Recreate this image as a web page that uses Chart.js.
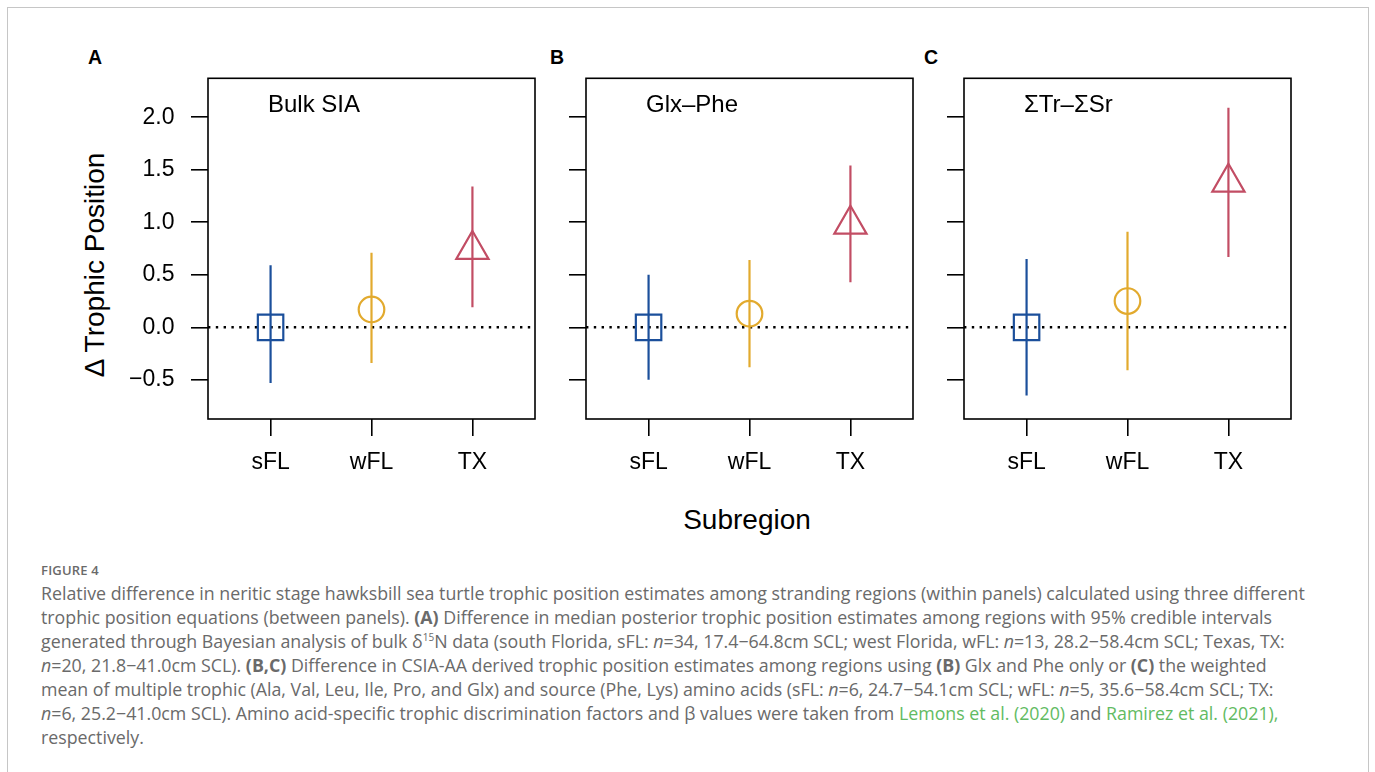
<!DOCTYPE html>
<html>
<head>
<meta charset="utf-8">
<script src="https://cdn.jsdelivr.net/npm/chart.js@4.4.0/dist/chart.umd.min.js"></script>
<style>
  body { margin: 0; background: #fff; width: 1375px; height: 772px; overflow: hidden; position: relative; font-family: "Liberation Sans", Arial, sans-serif; }
  .frame { position: absolute; left: 7px; top: 7px; width: 1360px; height: 800px; border: 1.5px solid #c6c6c6; border-bottom: none; }
  canvas { position: absolute; top: 70px; }
  .letter { position: absolute; font-weight: bold; font-size: 19.5px; transform: translate(-50%, -50%); }
  .ytitle { position: absolute; left: 95px; top: 265px; font-size: 28px; white-space: nowrap; transform: translate(-50%, -50%) rotate(-90deg); }
  .xtitle { position: absolute; left: 747px; top: 520px; font-size: 28px; transform: translate(-50%, -50%); }
  .caption { position: absolute; left: 41px; top: 559px; color: #6a6a6a; font-family: "Open Sans", sans-serif; }
  .caption .fig { font-size: 13px; font-weight: 600; letter-spacing: 0.2px; line-height: 22px; }
  .caption .ln { font-size: 17.8px; line-height: 24px; height: 24px; white-space: nowrap; }
  .caption a { color: #62bb62; text-decoration: none; }
  .caption b { font-weight: 700; }
  .caption sup { font-size: 10px; line-height: 0; }
</style>
</head>
<body>
<div class="frame"></div>
<div class="letter" style="left:95px; top:57px;">A</div>
<div class="letter" style="left:557px; top:57px;">B</div>
<div class="letter" style="left:931px; top:57px;">C</div>
<div class="ytitle">Δ Trophic Position</div>
<div class="xtitle">Subregion</div>

<canvas id="panelA" width="481" height="430" style="left:60px;"></canvas>
<canvas id="panelB" width="379" height="430" style="left:540px;"></canvas>
<canvas id="panelC" width="379" height="430" style="left:918px;"></canvas>

<div class="caption">
  <div class="fig">FIGURE 4</div>
  <div class="ln">Relative difference in neritic stage hawksbill sea turtle trophic position estimates among stranding regions (within panels) calculated using three different</div>
  <div class="ln">trophic position equations (between panels). <b>(A)</b> Difference in median posterior trophic position estimates among regions with 95% credible intervals</div>
  <div class="ln">generated through Bayesian analysis of bulk δ<sup>15</sup>N data (south Florida, sFL: <i>n</i>=34, 17.4−64.8cm SCL; west Florida, wFL: <i>n</i>=13, 28.2−58.4cm SCL; Texas, TX:</div>
  <div class="ln"><i>n</i>=20, 21.8−41.0cm SCL). <b>(B,C)</b> Difference in CSIA-AA derived trophic position estimates among regions using <b>(B)</b> Glx and Phe only or <b>(C)</b> the weighted</div>
  <div class="ln">mean of multiple trophic (Ala, Val, Leu, Ile, Pro, and Glx) and source (Phe, Lys) amino acids (sFL: <i>n</i>=6, 24.7−54.1cm SCL; wFL: <i>n</i>=5, 35.6−58.4cm SCL; TX:</div>
  <div class="ln"><i>n</i>=6, 25.2−41.0cm SCL). Amino acid-specific trophic discrimination factors and β values were taken from <a>Lemons et al. (2020)</a> and <a>Ramirez et al. (2021),</a></div>
  <div class="ln">respectively.</div>
</div>

<script>
const regions = ['sFL', 'wFL', 'TX'];
const methods = ['Bulk SIA', 'Glx–Phe', 'ΣTr–ΣSr'];
const yTicks = [-0.5, 0, 0.5, 1, 1.5, 2];

const bulkMedian = [0, 0.17, 0.74];
const bulkLow = [-0.53, -0.34, 0.19];
const bulkHigh = [0.59, 0.71, 1.34];

const glxMedian = [0, 0.13, 0.98];
const glxLow = [-0.50, -0.38, 0.43];
const glxHigh = [0.50, 0.64, 1.54];

const sumMedian = [0, 0.25, 1.38];
const sumLow = [-0.65, -0.41, 0.67];
const sumHigh = [0.65, 0.91, 2.09];

const colors = ['#1b4f9b', '#e2aa2e', '#c24d64'];
const shapes = ['rect', 'circle', 'triangle'];
const shapeSizes = [18, 12.8, 18.6];

Chart.defaults.font.family = '"Liberation Sans", Arial, sans-serif';
Chart.defaults.color = '#000';

// box round the plot + the method name inside it
const panelBox = {
    id: 'panelBox',
    afterDatasetsDraw(chart, args, opts) {
        const a = chart.chartArea;
        const ctx = chart.ctx;
        ctx.save();
        ctx.strokeStyle = '#000';
        ctx.lineWidth = 1.6;
        ctx.strokeRect(a.left, a.top, a.right - a.left, a.bottom - a.top);
        ctx.fillStyle = '#000';
        ctx.font = '24px "Liberation Sans", Arial, sans-serif';
        ctx.textBaseline = 'middle';
        ctx.fillText(opts.text, a.left + 60, a.top + 27);
        ctx.restore();
    }
};

function noPad(scale) {
    scale.paddingTop = 0;
    scale.paddingBottom = 0;
    scale.paddingLeft = 0;
    scale.paddingRight = 0;
}

function makePanel(id, title, median, low, high, axisW, showLabels) {
    const datasets = [];

    datasets.push({
        data: median.map((v, i) => ({ x: i + 1, y: v })),
        pointStyle: shapes,
        pointRadius: shapeSizes,
        pointBorderColor: colors,
        pointBackgroundColor: 'rgba(0,0,0,0)',
        pointBorderWidth: 2.2
    });

    regions.forEach((r, i) => {
        datasets.push({
            data: [{ x: i + 1, y: low[i] }, { x: i + 1, y: high[i] }],
            showLine: true,
            borderColor: colors[i],
            borderWidth: 2.2,
            pointRadius: 0
        });
    });

    datasets.push({
        data: [{ x: 0.38, y: 0 }, { x: 3.62, y: 0 }],
        showLine: true,
        borderColor: '#000',
        borderWidth: 2.4,
        borderDash: [2.4, 5.4],
        pointRadius: 0
    });

    new Chart(document.getElementById(id), {
        type: 'scatter',
        data: { datasets: datasets },
        options: {
            responsive: false,
            animation: false,
            events: [],
            layout: { autoPadding: false, padding: { left: 0, top: 8.3, right: 6, bottom: 0 } },
            plugins: {
                legend: { display: false },
                tooltip: { enabled: false },
                panelBox: { text: title }
            },
            scales: {
                x: {
                    type: 'linear',
                    min: 0.38,
                    max: 3.62,
                    afterBuildTicks: (scale) => { scale.ticks = regions.map((r, i) => ({ value: i + 1 })); },
                    afterFit: (scale) => { scale.height = 81; noPad(scale); },
                    grid: { drawOnChartArea: false, drawTicks: true, tickLength: 17, color: '#000', lineWidth: 1.6 },
                    border: { display: false },
                    ticks: {
                        padding: 13,
                        font: { size: 23 },
                        callback: (value) => regions[value - 1]
                    }
                },
                y: {
                    min: -0.873,
                    max: 2.371,
                    afterBuildTicks: (scale) => { scale.ticks = yTicks.map(v => ({ value: v })); },
                    afterFit: (scale) => { scale.width = axisW; noPad(scale); },
                    grid: { drawOnChartArea: false, drawTicks: true, tickLength: 17, color: '#000', lineWidth: 1.6 },
                    border: { display: false },
                    ticks: {
                        display: showLabels,
                        padding: 16.5,
                        font: { size: 23 },
                        callback: (value) => value < 0 ? '\u2212' + Math.abs(value).toFixed(1) : value.toFixed(1)
                    }
                }
            }
        },
        plugins: [panelBox]
    });
}

makePanel('panelA', methods[0], bulkMedian, bulkLow, bulkHigh, 148, true);
makePanel('panelB', methods[1], glxMedian, glxLow, glxHigh, 46, false);
makePanel('panelC', methods[2], sumMedian, sumLow, sumHigh, 46, false);
</script>
</body>
</html>
